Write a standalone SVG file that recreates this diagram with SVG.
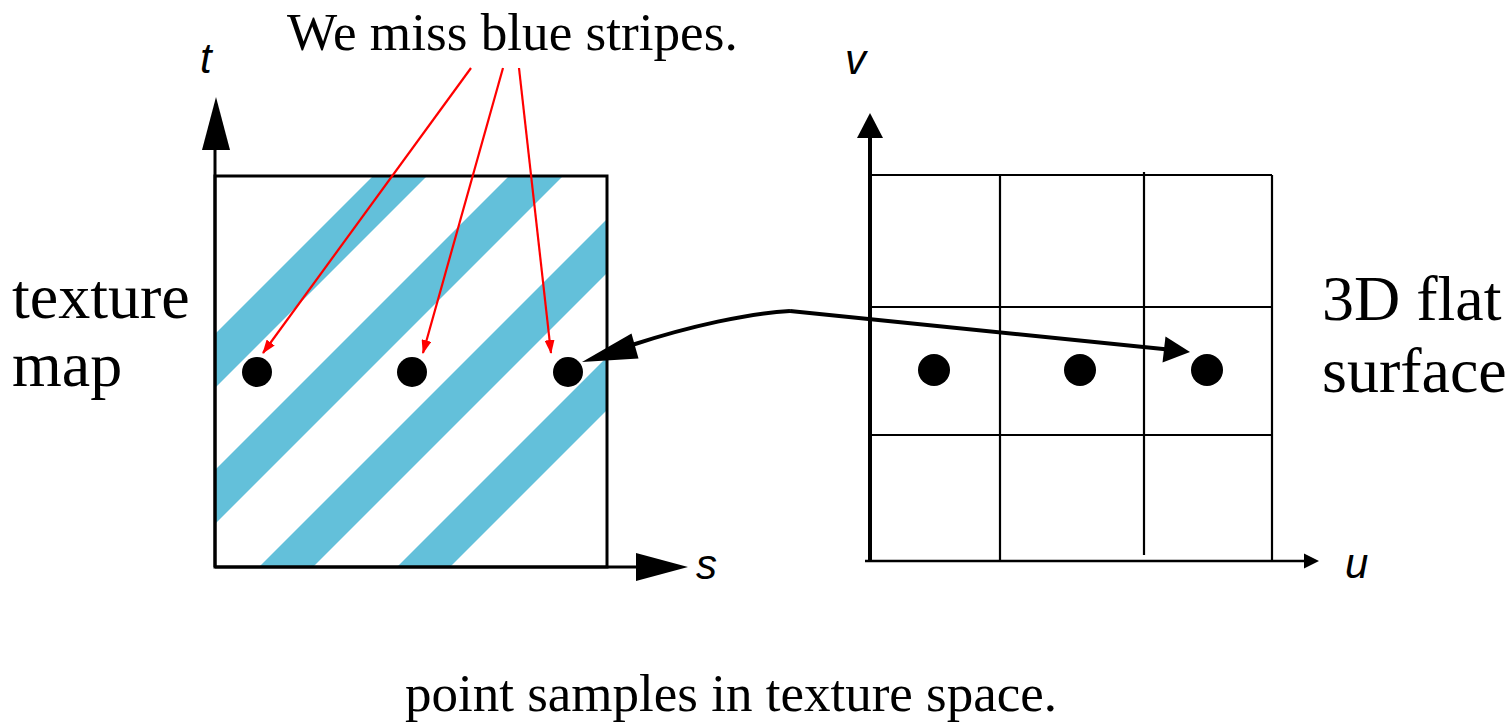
<svg xmlns="http://www.w3.org/2000/svg" width="1509" height="723" viewBox="0 0 1509 723">
<style>
.serif{font-family:"Liberation Serif","Times New Roman",serif;fill:#000}
.axl{font-family:"Liberation Sans",Arial,sans-serif;font-style:italic;font-size:42px;fill:#000}
.ln{stroke:#000;fill:none}
.stripe{fill:#63c0da}
.red{stroke:#ff0000;stroke-width:2.2;fill:none}
</style>
<defs>
<clipPath id="boxclip"><rect x="215" y="176" width="392" height="391"/></clipPath>
<marker id="redhead" markerWidth="14" markerHeight="10" refX="13" refY="5" orient="auto" markerUnits="userSpaceOnUse">
<path d="M0,0 L14,5 L0,10 Z" fill="#ff0000"/>
</marker>
</defs>
<rect width="1509" height="723" fill="#fff"/>

<g id="title"><text class="serif" x="287" y="50" font-size="53.2">We miss blue stripes.</text></g>

<g id="texture-map">
<g clip-path="url(#boxclip)">
<polygon class="stripe" points="0,549 549,0 603,0 0,603"/>
<polygon class="stripe" points="0,685 685,0 739,0 0,739"/>
<polygon class="stripe" points="0,826 826,0 880,0 0,880"/>
<polygon class="stripe" points="0,964 964,0 1017,0 0,1017"/>
</g>
<rect x="215" y="176" width="392" height="391" class="ln" stroke-width="3"/>
<line x1="215" y1="567" x2="215" y2="148" class="ln" stroke-width="3"/>
<polygon points="216,97 202,150 230,150" fill="#000"/>
<line x1="215" y1="567" x2="638" y2="567" class="ln" stroke-width="3"/>
<polygon points="636,553 688,567 636,581" fill="#000"/>
<text class="axl" x="200" y="73">t</text>
<text class="axl" x="696" y="579">s</text>
<circle cx="257" cy="372" r="15" fill="#000"/>
<circle cx="412" cy="372" r="15" fill="#000"/>
<circle cx="568" cy="372" r="15" fill="#000"/>
<text class="serif" x="12" y="318" font-size="64">texture</text>
<text class="serif" x="12" y="386" font-size="64">map</text>
</g>

<g id="surface">
<g class="ln" stroke-width="2.2">
<line x1="870" y1="175" x2="1272" y2="175"/>
<line x1="870" y1="307" x2="1272" y2="307"/>
<line x1="870" y1="435" x2="1272" y2="435"/>
<line x1="1000" y1="175" x2="1000" y2="561"/>
<line x1="1144" y1="172" x2="1144" y2="555"/>
<line x1="1272" y1="175" x2="1272" y2="561"/>
</g>
<line x1="870" y1="561" x2="870" y2="135" class="ln" stroke-width="4"/>
<polygon points="870,113 857,138 883,138" fill="#000"/>
<line x1="865" y1="561" x2="1305" y2="561" class="ln" stroke-width="2.5"/>
<polygon points="1304,553.5 1319,561 1304,568.5" fill="#000"/>
<text class="axl" x="845" y="74">v</text>
<text class="axl" x="1345" y="578">u</text>
<circle cx="934" cy="370" r="16" fill="#000"/>
<circle cx="1080" cy="370" r="16" fill="#000"/>
<circle cx="1207" cy="370" r="16" fill="#000"/>
<text class="serif" x="1322" y="320" font-size="64">3D flat</text>
<text class="serif" x="1322" y="392" font-size="64">surface</text>
</g>

<g id="caption"><text class="serif" x="405" y="711" font-size="53">point samples in texture space.</text></g>

<g id="connectors">
<line class="red" x1="471" y1="68" x2="263" y2="353" marker-end="url(#redhead)"/>
<line class="red" x1="503" y1="68" x2="423" y2="353" marker-end="url(#redhead)"/>
<line class="red" x1="519" y1="68" x2="551" y2="353" marker-end="url(#redhead)"/>
<line x1="790" y1="311" x2="1168" y2="349.5" class="ln" stroke-width="4"/>
<polygon points="1190,352 1165.5,336.5 1162.5,362.5" fill="#000"/>
<path d="M790,311 C750,313 690,326 632,345" class="ln" stroke-width="4"/>
<polygon points="582,362 631.5,333.5 638.5,358.5" fill="#000"/>
</g>
</svg>
